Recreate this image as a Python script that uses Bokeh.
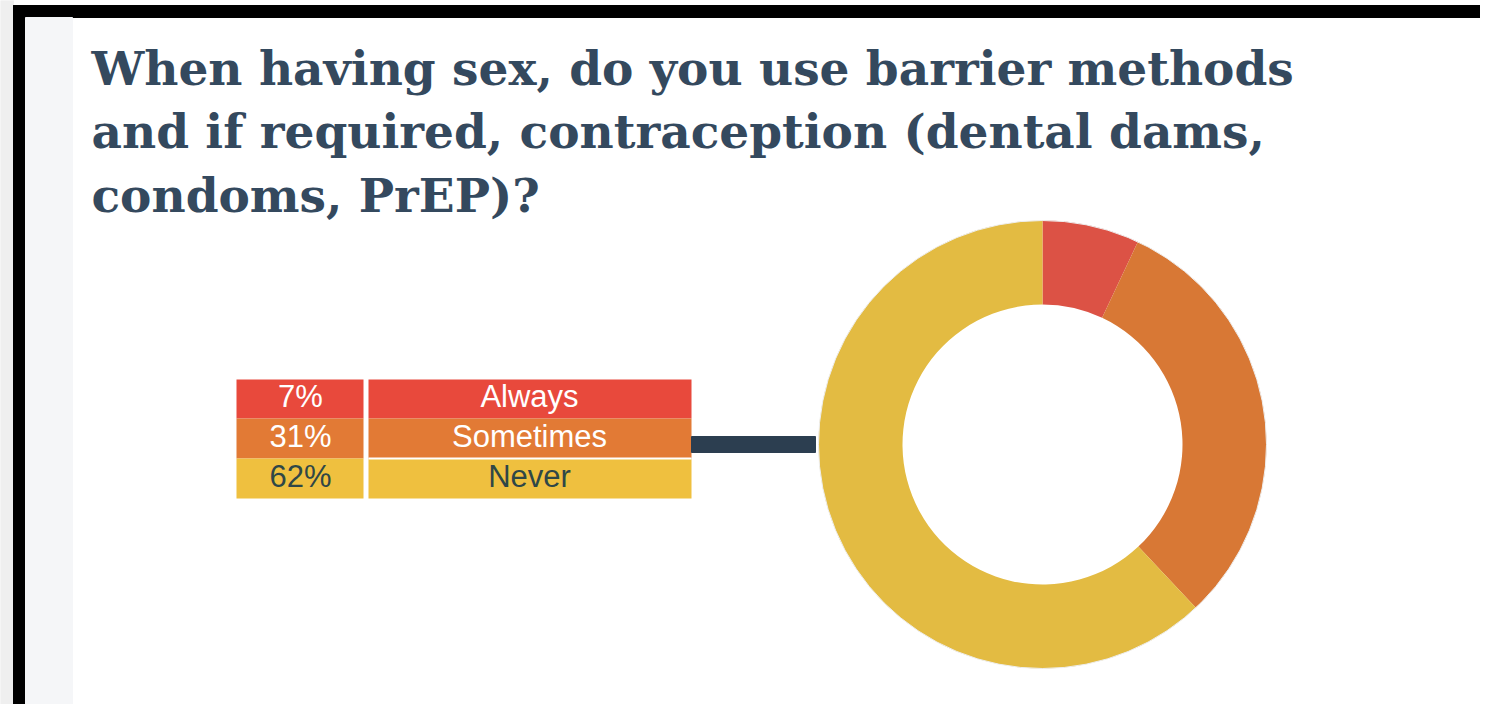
from bokeh.plotting import figure
from bokeh.models import Range1d, ColumnDataSource
from bokeh.core.properties import value
from bokeh.embed import file_html
from bokeh.resources import INLINE
import math

# ---- data ----
categories = ["Always", "Sometimes", "Never"]
percent_values = [7, 31, 62]
percent_labels = ["7%", "31%", "62%"]
donut_colors = ["#dc5245", "#d87835", "#e3bb42"]
table_colors = ["#e8493c", "#e27a35", "#efc03f"]
text_colors = ["#ffffff", "#ffffff", "#2f4747"]
title_lines = [
    "When having sex, do you use barrier methods",
    "and if required, contraception (dental dams,",
    "condoms, PrEP)?",
]

# ---- layout (picture pixel coords, y measured upward) ----
FW, FH = 1480, 704
def Y(y_down):
    return FH - y_down

p = figure(width=FW, height=FH, output_backend="svg", toolbar_location=None,
           x_range=Range1d(0, FW), y_range=Range1d(0, FH),
           min_border=0, outline_line_color=None)
p.axis.visible = False
p.grid.visible = False
p.background_fill_color = "#ffffff"
p.border_fill_color = "#ffffff"

# page background and frame
p.quad(left=[0], right=[13], bottom=[Y(720)], top=[Y(0)], color="#efefef")
p.quad(left=[13], right=[FW], bottom=[Y(17)], top=[Y(5)], color="#000000")
p.quad(left=[13], right=[25], bottom=[Y(720)], top=[Y(5)], color="#000000")
p.quad(left=[25], right=[72], bottom=[Y(712)], top=[Y(17)], color="#f5f6f8")

# title
title_x = 91
title_baselines = [68, 131, 195]
for line, b in zip(title_lines, title_baselines):
    p.text(x=[title_x], y=[Y(b)], text=[line], text_font=value("DejaVu Serif"),
           text_font_style="bold", text_font_size="47px", text_color="#34495e",
           text_baseline="alphabetic", text_align="left")

# table legend
row_top = 379
row_h = [39, 40, 40]
tops, bottoms = [], []
t = row_top
for h in row_h:
    tops.append(Y(t)); bottoms.append(Y(t + h)); t += h
src = ColumnDataSource(dict(cat=categories, lab=percent_labels, top=tops, bottom=bottoms,
                            fill=table_colors, tc=text_colors,
                            mid=[(a + b) / 2 + 2.5 for a, b in zip(tops, bottoms)]))
p.quad(left=236, right=363, top="top", bottom="bottom", fill_color="fill", line_color=None, source=src)
p.quad(left=368, right=691, top="top", bottom="bottom", fill_color="fill", line_color=None, source=src)
# white separator between Sometimes and Never in label column
p.segment(x0=[368], x1=[691], y0=[bottoms[1]], y1=[bottoms[1]], line_color="#ffffff", line_width=2)
p.text(x=300, y="mid", text="lab", text_color="tc", source=src, text_font=value("Liberation Sans"),
       text_font_size="31px", text_align="center", text_baseline="middle")
p.text(x=529, y="mid", text="cat", text_color="tc", source=src, text_font=value("Liberation Sans"),
       text_font_size="31px", text_align="center", text_baseline="middle")

# connector bar
p.quad(left=[691], right=[815], top=[Y(436)], bottom=[Y(452)], color="#2c3e50")

# donut
CX, CY, R_OUT, R_IN = 1042, Y(444), 224, 140
total = sum(percent_values)
starts, ends = [], []
cum = 0
for v in percent_values:
    starts.append(math.pi / 2 - 2 * math.pi * cum / total)
    cum += v
    ends.append(math.pi / 2 - 2 * math.pi * cum / total)
dsrc = ColumnDataSource(dict(start=starts, end=ends, color=donut_colors))
p.annular_wedge(x=CX, y=CY, inner_radius=R_IN, outer_radius=R_OUT, start_angle="start",
                end_angle="end", direction="clock", fill_color="color", line_color=None, source=dsrc)
p.circle(x=[CX], y=[CY], radius=R_OUT, fill_color=None, line_color="#eeeeee", line_width=1)

open("out.html", "w").write(file_html(p, INLINE))
